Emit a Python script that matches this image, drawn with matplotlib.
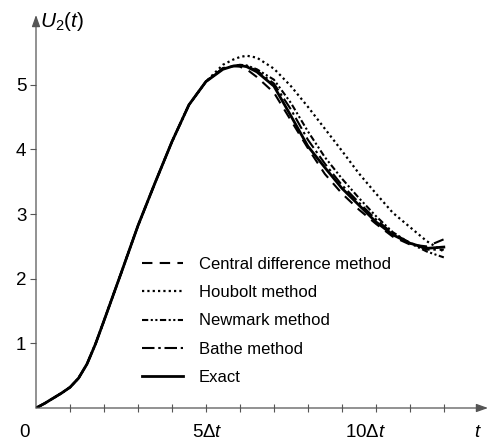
import matplotlib.pyplot as plt

plt.rcParams['font.family'] = ['Liberation Sans', 'DejaVu Sans']
plt.rcParams['mathtext.fontset'] = 'custom'
plt.rcParams['mathtext.rm'] = 'Liberation Sans'
plt.rcParams['mathtext.it'] = 'Liberation Sans:italic'

# time in units of delta t
t = [0, 0.25, 0.5, 0.75, 1, 1.25, 1.5, 1.75, 2, 2.5, 3, 3.5, 4, 4.5, 5,
     5.5, 5.8, 6, 6.2, 6.5, 7, 7.5, 8, 8.5, 9, 9.5, 10, 10.5, 11, 11.5, 12]

# common rising part (all methods overlap up to 5 dt)
rise = [0, 0.07, 0.15, 0.23, 0.32, 0.46, 0.68, 0.99, 1.35, 2.08, 2.82,
        3.48, 4.12, 4.69, 5.05]

exact = rise + [5.24, 5.29, 5.30, 5.28, 5.20, 4.98, 4.52, 4.05, 3.72, 3.40,
                3.14, 2.88, 2.68, 2.55, 2.47, 2.49]
central = rise + [5.26, 5.29, 5.28, 5.24, 5.12, 4.88, 4.45, 4.02, 3.62,
                  3.32, 3.07, 2.85, 2.65, 2.53, 2.50, 2.61]
houbolt = rise + [5.31, 5.39, 5.43, 5.45, 5.42, 5.25, 4.98, 4.66, 4.32,
                  3.98, 3.63, 3.32, 3.02, 2.80, 2.58, 2.42]
newmark = rise + [5.25, 5.29, 5.31, 5.30, 5.24, 5.08, 4.72, 4.28, 3.88,
                  3.55, 3.25, 2.97, 2.72, 2.55, 2.42, 2.33]
bathe = rise + [5.25, 5.29, 5.30, 5.29, 5.22, 5.02, 4.62, 4.15, 3.78,
                3.45, 3.18, 2.92, 2.70, 2.56, 2.45, 2.45]

series = [
    ('Central difference method', central, (0, (5, 3.5)), 1.5),
    ('Houbolt method', houbolt, (0, (1, 1.4)), 1.6),
    ('Newmark method', newmark, (0, (3, 1.2, 1, 1.2, 1, 1.2)), 1.5),
    ('Bathe method', bathe, (0, (6, 1.8, 1.2, 1.8)), 1.5),
    ('Exact', exact, '-', 2.0),
]

fig = plt.figure(figsize=(4.92, 4.45), dpi=100)
ax = fig.add_axes([36 / 492, 37 / 445, 452 / 492, 393 / 445])

for name, vals, ls, lw in series:
    ax.plot(t, vals, color='black', linestyle=ls, linewidth=lw, label=name)

ax.set_xlim(0, 13.3)
ax.set_ylim(0, 6.08)

for s in ax.spines.values():
    s.set_visible(False)

axcol = '#555555'
ax.annotate('', xy=(1, 0), xycoords='axes fraction', xytext=(0, 0),
            arrowprops=dict(arrowstyle='-|>,head_length=0.7,head_width=0.25',
                            color=axcol, lw=0.9, shrinkA=0, shrinkB=0))
ax.annotate('', xy=(0, 1), xycoords='axes fraction', xytext=(0, 0),
            arrowprops=dict(arrowstyle='-|>,head_length=0.7,head_width=0.25',
                            color=axcol, lw=0.9, shrinkA=0, shrinkB=0))

ax.set_yticks([1, 2, 3, 4, 5])
ax.set_yticklabels(['1', '2', '3', '4', '5'], fontsize=13.5)
ax.tick_params(axis='y', direction='out', length=4, width=0.8, color=axcol, pad=3)
ax.set_xticks(range(1, 13))
ax.set_xticklabels([])
ax.tick_params(axis='x', direction='inout', length=6, width=0.8, color=axcol)

ax.text(-0.35, -0.38, '0', fontsize=13.5, ha='center', va='center')
ax.text(5.05, -0.38, r'5$\Delta t$', fontsize=13.5, ha='center', va='center')
ax.text(9.7, -0.38, r'10$\Delta t$', fontsize=13.5, ha='center', va='center')
ax.text(13.0, -0.38, r'$t$', fontsize=13.5, ha='center', va='center')
ax.text(0.12, 5.98, r'$U_2(t)$', fontsize=15, ha='left', va='center')

ax.legend(loc='upper left', bbox_to_anchor=(142 / 492, 1 - 257 / 445),
          bbox_transform=fig.transFigure, frameon=False, fontsize=12,
          handlelength=2.45, handletextpad=0.95, labelspacing=0.79,
          borderpad=0, borderaxespad=0)

fig.savefig('out.png', dpi=100)
